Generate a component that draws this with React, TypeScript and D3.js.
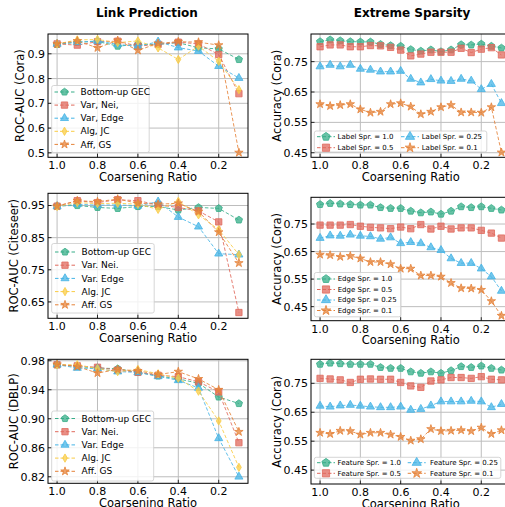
import React, { useEffect, useRef } from 'react';
import * as d3 from 'd3';

// Coarsening ratios on the x axis
const linkRatios = [1.0, 0.9, 0.8, 0.7, 0.6, 0.5, 0.4, 0.3, 0.2, 0.1];
const sparsityRatios = [1.0, 0.95, 0.9, 0.85, 0.8, 0.75, 0.7, 0.65, 0.6, 0.55, 0.5, 0.45, 0.4, 0.35, 0.3, 0.25, 0.2, 0.15, 0.1];
const xTicks = [1.0, 0.8, 0.6, 0.4, 0.2];

// Link prediction, Cora
const coraGec = [0.938, 0.947, 0.950, 0.931, 0.938, 0.938, 0.945, 0.924, 0.920, 0.877];
const coraNei = [0.940, 0.935, 0.949, 0.951, 0.931, 0.938, 0.947, 0.940, 0.897, 0.739];
const coraEdge = [0.940, 0.947, 0.952, 0.938, 0.930, 0.949, 0.925, 0.911, 0.850, 0.802];
const coraJc = [0.940, 0.956, 0.958, 0.945, 0.952, 0.924, 0.877, 0.931, 0.870, 0.755];
const coraGs = [0.940, 0.952, 0.924, 0.954, 0.914, 0.942, 0.949, 0.947, 0.935, 0.501];

// Link prediction, Citeseer
const citeGec = [0.949, 0.950, 0.944, 0.941, 0.947, 0.947, 0.936, 0.944, 0.941, 0.905];
const citeNei = [0.948, 0.965, 0.959, 0.968, 0.965, 0.952, 0.944, 0.933, 0.899, 0.617];
const citeEdge = [0.947, 0.954, 0.951, 0.952, 0.949, 0.962, 0.914, 0.884, 0.800, 0.797];
const citeJc = [0.947, 0.959, 0.956, 0.957, 0.954, 0.938, 0.963, 0.921, 0.875, 0.797];
const citeGs = [0.948, 0.965, 0.962, 0.970, 0.957, 0.954, 0.957, 0.931, 0.867, 0.771];

// Link prediction, DBLP
const dblpGec = [0.9745, 0.972, 0.970, 0.969, 0.964, 0.959, 0.955, 0.949, 0.930, 0.921];
const dblpNei = [0.9745, 0.973, 0.971, 0.967, 0.964, 0.960, 0.958, 0.951, 0.937, 0.867];
const dblpEdge = [0.9745, 0.970, 0.969, 0.965, 0.964, 0.9585, 0.953, 0.9425, 0.873, 0.820];
const dblpJc = [0.9745, 0.9745, 0.969, 0.965, 0.968, 0.962, 0.956, 0.938, 0.897, 0.833];
const dblpGs = [0.975, 0.972, 0.963, 0.968, 0.966, 0.961, 0.965, 0.955, 0.940, 0.882];

// Extreme sparsity: label sparsity
const label10 = [0.816, 0.822, 0.819, 0.816, 0.815, 0.815, 0.807, 0.803, 0.801, 0.790, 0.785, 0.789, 0.783, 0.789, 0.806, 0.805, 0.808, 0.801, 0.795];
const label05 = [0.799, 0.805, 0.805, 0.799, 0.799, 0.803, 0.802, 0.797, 0.788, 0.769, 0.775, 0.781, 0.781, 0.781, 0.794, 0.780, 0.791, 0.796, 0.772];
const label025 = [0.734, 0.739, 0.734, 0.739, 0.726, 0.723, 0.717, 0.717, 0.719, 0.693, 0.681, 0.692, 0.687, 0.686, 0.693, 0.687, 0.659, 0.676, 0.613];
const label01 = [0.610, 0.604, 0.607, 0.610, 0.593, 0.582, 0.585, 0.610, 0.613, 0.602, 0.577, 0.585, 0.600, 0.607, 0.583, 0.583, 0.582, 0.600, 0.451];

// Extreme sparsity: edge sparsity
const edge10 = [0.821, 0.825, 0.823, 0.821, 0.819, 0.819, 0.810, 0.807, 0.807, 0.797, 0.791, 0.794, 0.786, 0.797, 0.813, 0.810, 0.813, 0.807, 0.801];
const edge05 = [0.746, 0.746, 0.746, 0.748, 0.742, 0.738, 0.736, 0.733, 0.739, 0.733, 0.748, 0.732, 0.742, 0.732, 0.736, 0.736, 0.727, 0.717, 0.699];
const edge025 = [0.699, 0.708, 0.707, 0.711, 0.707, 0.705, 0.696, 0.701, 0.680, 0.684, 0.680, 0.665, 0.655, 0.625, 0.608, 0.608, 0.588, 0.559, 0.507];
const edge01 = [0.639, 0.637, 0.631, 0.634, 0.625, 0.612, 0.612, 0.604, 0.588, 0.588, 0.563, 0.563, 0.559, 0.536, 0.517, 0.516, 0.511, 0.470, 0.417];

// Extreme sparsity: feature sparsity
const feat10 = [0.816, 0.820, 0.818, 0.816, 0.816, 0.816, 0.805, 0.802, 0.802, 0.790, 0.785, 0.790, 0.785, 0.794, 0.808, 0.805, 0.810, 0.802, 0.796];
const feat05 = [0.767, 0.765, 0.762, 0.753, 0.764, 0.765, 0.764, 0.764, 0.753, 0.741, 0.736, 0.758, 0.762, 0.770, 0.770, 0.767, 0.773, 0.764, 0.762];
const feat025 = [0.672, 0.669, 0.673, 0.675, 0.672, 0.669, 0.667, 0.667, 0.669, 0.658, 0.661, 0.673, 0.687, 0.687, 0.687, 0.689, 0.687, 0.667, 0.678];
const feat01 = [0.579, 0.575, 0.586, 0.585, 0.573, 0.579, 0.579, 0.573, 0.565, 0.552, 0.557, 0.592, 0.585, 0.586, 0.588, 0.585, 0.597, 0.575, 0.588];

// Series names
const coraNames = ['Bottom-up GEC', 'Var, Nei,', 'Var, Edge', 'Alg, JC', 'Aff, GS'];
const methodNames = ['Bottom-up GEC', 'Var. Nei.', 'Var. Edge', 'Alg. JC', 'Aff. GS'];
const labelNames = ['Label Spr. = 1.0', 'Label Spr. = 0.5', 'Label Spr. = 0.25', 'Label Spr. = 0.1'];
const edgeNames = ['Edge Spr. = 1.0', 'Edge Spr. = 0.5', 'Edge Spr. = 0.25', 'Edge Spr. = 0.1'];
const featNames = ['Feature Spr. = 1.0', 'Feature Spr. = 0.5', 'Feature Spr. = 0.25', 'Feature Spr. = 0.1'];

// Marker shapes and colours
const pentagon = {
  draw(ctx: any, size: number) {
    const r = Math.sqrt(size / 2.378);
    for (let i = 0; i < 5; i++) {
      const a = -Math.PI / 2 + (i * 2 * Math.PI) / 5;
      if (i === 0) ctx.moveTo(r * Math.cos(a), r * Math.sin(a));
      else ctx.lineTo(r * Math.cos(a), r * Math.sin(a));
    }
    ctx.closePath();
  },
};
const GREEN = { color: '#36ad88', symbol: pentagon, size: 34 };
const RED = { color: '#e06a5d', symbol: d3.symbolSquare, size: 40 };
const BLUE = { color: '#45b4e6', symbol: d3.symbolTriangle, size: 28 };
const YELLOW = { color: '#f9cc45', symbol: d3.symbolDiamond, size: 20 };
const ORANGE = { color: '#e5833a', symbol: d3.symbolStar, size: 22 };
const linkStyles = [GREEN, RED, BLUE, YELLOW, ORANGE];
const sparStyles = [GREEN, RED, BLUE, ORANGE];

const FONT = "'DejaVu Sans', sans-serif";

const panels = [
  {
    xs: linkRatios, series: [coraGec, coraNei, coraEdge, coraJc, coraGs], names: coraNames, styles: linkStyles,
    frame: { left: 48, right: 248, top: 34, bottom: 157.3 }, yDomain: [0.482, 0.98],
    yTicks: [0.5, 0.6, 0.7, 0.8, 0.9], yFmt: '.1f', yLabel: 'ROC-AUC (Cora)', yLabelX: 23.5,
    legend: { x: 51.7, y: 85.5, w: 97.5, h: 67, first: 92, gap: 13.1, cols: [{ m: 64.5, t: 80.5 }], font: 9, rows: 5 },
  },
  {
    xs: linkRatios, series: [citeGec, citeNei, citeEdge, citeJc, citeGs], names: methodNames, styles: linkStyles,
    frame: { left: 48, right: 248, top: 193.3, bottom: 318.3 }, yDomain: [0.599, 0.988],
    yTicks: [0.65, 0.75, 0.85, 0.95], yFmt: '.2f', yLabel: 'ROC-AUC (Citeseer)', yLabelX: 17.5,
    legend: { x: 51.7, y: 243.5, w: 102.5, h: 69.5, first: 252, gap: 13.2, cols: [{ m: 65, t: 81.5 }], font: 9, rows: 5 },
  },
  {
    xs: linkRatios, series: [dblpGec, dblpNei, dblpEdge, dblpJc, dblpGs], names: methodNames, styles: linkStyles,
    frame: { left: 48, right: 248, top: 359.3, bottom: 483.3 }, yDomain: [0.811, 0.982],
    yTicks: [0.82, 0.86, 0.9, 0.94, 0.98], yFmt: '.2f', yLabel: 'ROC-AUC (DBLP)', yLabelX: 17.5,
    legend: { x: 51.7, y: 411, w: 102, h: 70, first: 418.5, gap: 13.2, cols: [{ m: 65, t: 81.5 }], font: 9, rows: 5 },
  },
  {
    xs: sparsityRatios, series: [label10, label05, label025, label01], names: labelNames, styles: sparStyles,
    frame: { left: 311, right: 510.5, top: 34, bottom: 157.3 }, yDomain: [0.435, 0.841],
    yTicks: [0.45, 0.55, 0.65, 0.75], yFmt: '.2f', yLabel: 'Accuracy (Cora)', yLabelX: 281,
    legend: { x: 314.3, y: 131, w: 172.5, h: 21, first: 136.7, gap: 11, cols: [{ m: 326, t: 337.5 }, { m: 410, t: 421.7 }], font: 7, rows: 2 },
  },
  {
    xs: sparsityRatios, series: [edge10, edge05, edge025, edge01], names: edgeNames, styles: sparStyles,
    frame: { left: 311, right: 510.5, top: 197.3, bottom: 320.7 }, yDomain: [0.399, 0.847],
    yTicks: [0.45, 0.55, 0.65, 0.75], yFmt: '.2f', yLabel: 'Accuracy (Cora)', yLabelX: 281,
    legend: { x: 314.3, y: 272.5, w: 86.5, h: 44.3, first: 279, gap: 10.5, cols: [{ m: 326, t: 337.7 }], font: 7, rows: 4 },
  },
  {
    xs: sparsityRatios, series: [feat10, feat05, feat025, feat01], names: featNames, styles: sparStyles,
    frame: { left: 311, right: 510.5, top: 359.3, bottom: 484 }, yDomain: [0.402, 0.833],
    yTicks: [0.45, 0.55, 0.65, 0.75], yFmt: '.2f', yLabel: 'Accuracy (Cora)', yLabelX: 281,
    legend: { x: 314.3, y: 457.3, w: 186.5, h: 21, first: 462.7, gap: 10.6, cols: [{ m: 326, t: 337.5 }, { m: 416.7, t: 430 }], font: 7, rows: 2 },
  },
];

const App = () => {
  const chartRef = useRef<SVGSVGElement | null>(null);

  useEffect(() => {
    const svg = d3.select(chartRef.current);
    svg.selectAll('*').remove();

    // Column titles
    svg.append('text').attr('x', 147).attr('y', 17).attr('text-anchor', 'middle')
      .attr('font-family', FONT).attr('font-size', 12).attr('font-weight', 'bold').text('Link Prediction');
    svg.append('text').attr('x', 412).attr('y', 17).attr('text-anchor', 'middle')
      .attr('font-family', FONT).attr('font-size', 12).attr('font-weight', 'bold').text('Extreme Sparsity');

    panels.forEach((p, pi) => {
      const f = p.frame;
      const x = d3.scaleLinear().domain([1.045, 0.055]).range([f.left, f.right]);
      const y = d3.scaleLinear().domain(p.yDomain).range([f.bottom, f.top]);
      const g = svg.append('g');

      // clip to the axes box
      const clipId = `clip-${pi}`;
      g.append('clipPath').attr('id', clipId).append('rect')
        .attr('x', f.left).attr('y', f.top).attr('width', f.right - f.left).attr('height', f.bottom - f.top);

      // grid lines
      g.selectAll('.gx').data(xTicks).enter().append('line')
        .attr('x1', d => x(d)).attr('x2', d => x(d)).attr('y1', f.top).attr('y2', f.bottom)
        .attr('stroke', '#bdbdbd').attr('stroke-width', 1);
      g.selectAll('.gy').data(p.yTicks).enter().append('line')
        .attr('x1', f.left).attr('x2', f.right).attr('y1', d => y(d)).attr('y2', d => y(d))
        .attr('stroke', '#bdbdbd').attr('stroke-width', 1);

      // series: dashed line + markers
      const plot = g.append('g').attr('clip-path', `url(#${clipId})`);
      p.series.forEach((vals, si) => {
        const st = p.styles[si];
        const pts = vals.map((v, i) => [p.xs[i], v] as [number, number]);
        const line = d3.line().x(d => x(d[0])).y(d => y(d[1]));
        plot.append('path').attr('d', line(pts)).attr('fill', 'none')
          .attr('stroke', st.color).attr('stroke-width', 1).attr('stroke-dasharray', '3.5,2')
          .attr('stroke-opacity', 0.85);
        const sym = d3.symbol().type(st.symbol as any).size(st.size);
        plot.selectAll(null).data(pts).enter().append('path')
          .attr('d', sym()).attr('transform', d => `translate(${x(d[0])},${y(d[1])})`)
          .attr('fill', st.color).attr('fill-opacity', 0.75)
          .attr('stroke', st.color).attr('stroke-width', 0.8);
      });

      // inward ticks
      g.selectAll('.tx').data(xTicks).enter().append('line')
        .attr('x1', d => x(d)).attr('x2', d => x(d)).attr('y1', f.bottom).attr('y2', f.bottom - 3.5)
        .attr('stroke', '#000').attr('stroke-width', 0.8);
      g.selectAll('.ty').data(p.yTicks).enter().append('line')
        .attr('x1', f.left).attr('x2', f.left + 3.5).attr('y1', d => y(d)).attr('y2', d => y(d))
        .attr('stroke', '#000').attr('stroke-width', 0.8);

      // frame
      g.append('rect').attr('x', f.left).attr('y', f.top)
        .attr('width', f.right - f.left).attr('height', f.bottom - f.top)
        .attr('fill', 'none').attr('stroke', '#000').attr('stroke-width', 1);

      // tick labels
      g.selectAll('.lx').data(xTicks).enter().append('text')
        .attr('x', d => x(d)).attr('y', f.bottom + 12).attr('text-anchor', 'middle')
        .attr('font-family', FONT).attr('font-size', 11).text(d => d3.format('.1f')(d));
      g.selectAll('.ly').data(p.yTicks).enter().append('text')
        .attr('x', f.left - 3).attr('y', d => y(d)).attr('dy', '0.36em').attr('text-anchor', 'end')
        .attr('font-family', FONT).attr('font-size', 11).text(d => d3.format(p.yFmt)(d));

      // axis labels
      g.append('text').attr('x', (f.left + f.right) / 2).attr('y', f.bottom + 23.5).attr('text-anchor', 'middle')
        .attr('font-family', FONT).attr('font-size', 11.5).text('Coarsening Ratio');
      g.append('text').attr('transform', `translate(${p.yLabelX},${(f.top + f.bottom) / 2}) rotate(-90)`)
        .attr('text-anchor', 'middle').attr('font-family', FONT).attr('font-size', 11.5).text(p.yLabel);

      // legend
      const L = p.legend;
      const lg = g.append('g');
      lg.append('rect').attr('x', L.x).attr('y', L.y).attr('width', L.w).attr('height', L.h)
        .attr('rx', 2).attr('fill', '#fff').attr('fill-opacity', 0.8)
        .attr('stroke', '#cccccc').attr('stroke-width', 0.8);
      p.names.forEach((name, si) => {
        const st = p.styles[si];
        const col = L.cols[Math.floor(si / L.rows)];
        const cy = L.first + (si % L.rows) * L.gap;
        const half = L.font === 9 ? 10 : 9;
        lg.append('line').attr('x1', col.m - half).attr('x2', col.m + half).attr('y1', cy).attr('y2', cy)
          .attr('stroke', st.color).attr('stroke-width', 1).attr('stroke-dasharray', '3.5,2');
        lg.append('path').attr('d', d3.symbol().type(st.symbol as any).size(st.size * (L.font === 9 ? 1 : 1.3))())
          .attr('transform', `translate(${col.m},${cy})`)
          .attr('fill', st.color).attr('fill-opacity', 0.75).attr('stroke', st.color).attr('stroke-width', 0.8);
        lg.append('text').attr('x', col.t).attr('y', cy).attr('dy', '0.35em')
          .attr('font-family', FONT).attr('font-size', L.font).text(name);
      });
    });
  }, []);

  return (
    <svg ref={chartRef} width={505} height={507}
      style={{ position: 'absolute', left: 0, top: 0, background: '#fff' }} />
  );
};

export default App;
